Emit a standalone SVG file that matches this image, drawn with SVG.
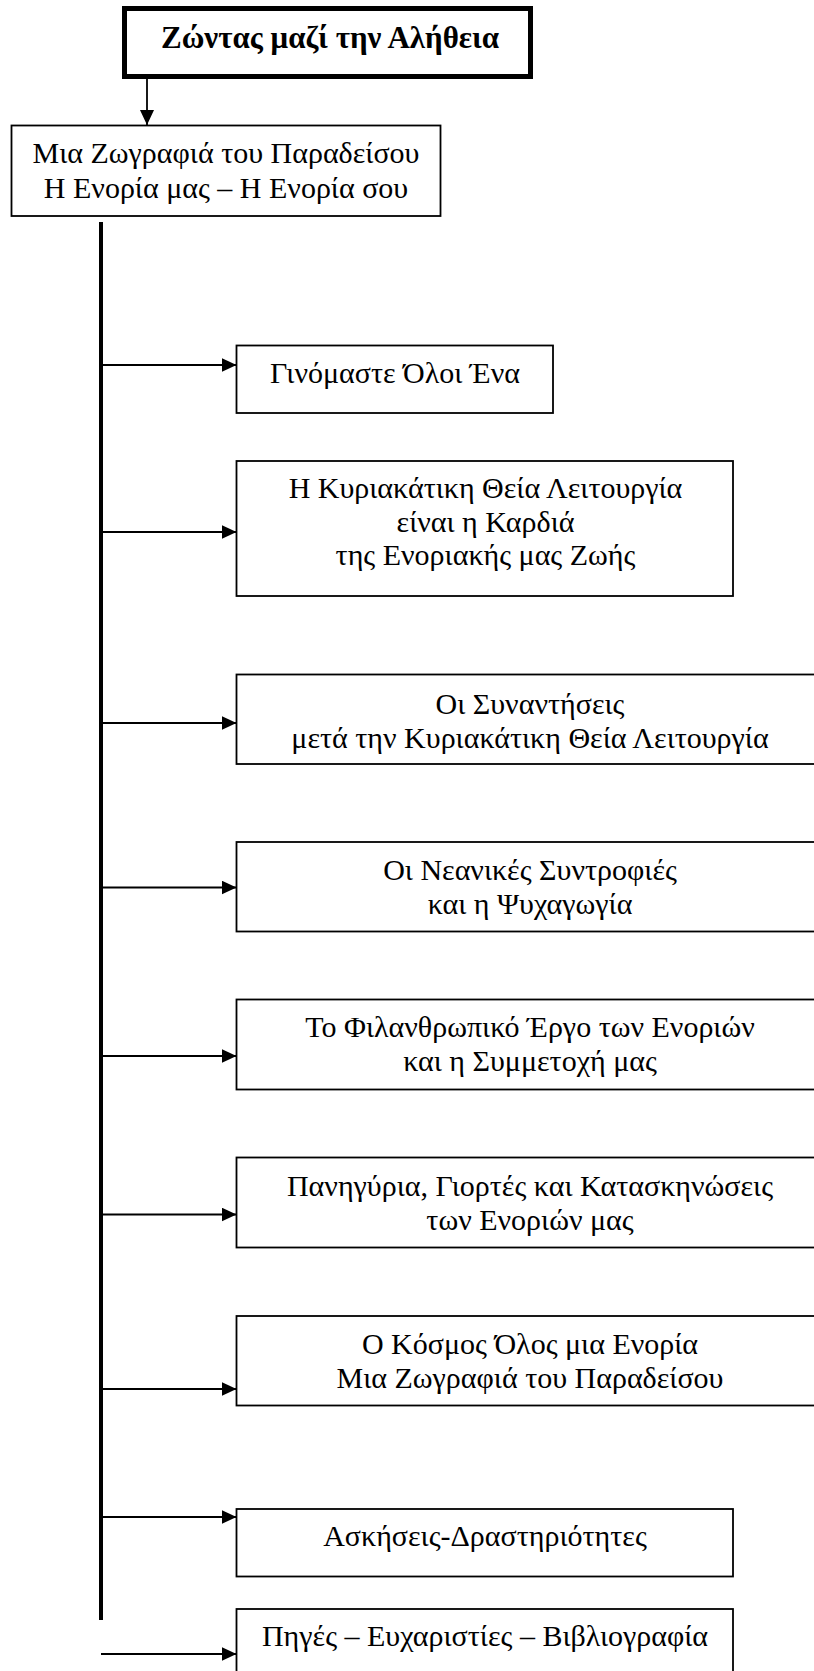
<svg xmlns="http://www.w3.org/2000/svg" width="814" height="1671" viewBox="0 0 814 1671">
<style>
  .box { fill: #ffffff; stroke: #000000; stroke-width: 1.8; }
  .title { fill: #ffffff; stroke: #000000; stroke-width: 5; }
  text { font-family: "Liberation Serif", "Times New Roman", serif; font-size: 30px; fill: #000000; text-anchor: middle; }
  .bold { font-weight: bold; font-size: 31px; }
  .conn { stroke: #000000; stroke-width: 1.8; fill: none; }
  .spine { stroke: #000000; stroke-width: 4; fill: none; }
</style>
<defs>
  <marker id="arrow" markerUnits="userSpaceOnUse" markerWidth="15" markerHeight="14" refX="15" refY="7" orient="auto">
    <path d="M0,0 L15,7 L0,14 z" fill="#000000"/>
  </marker>
</defs>

<g id="connectors">
  <line class="conn" x1="147" y1="79" x2="147" y2="125" marker-end="url(#arrow)"/>
  <line class="spine" x1="101" y1="222" x2="101" y2="1620"/>
  <line class="conn" x1="101" y1="365" x2="236.5" y2="365" marker-end="url(#arrow)"/>
  <line class="conn" x1="101" y1="532" x2="236.5" y2="532" marker-end="url(#arrow)"/>
  <line class="conn" x1="101" y1="723" x2="236.5" y2="723" marker-end="url(#arrow)"/>
  <line class="conn" x1="101" y1="887.5" x2="236.5" y2="887.5" marker-end="url(#arrow)"/>
  <line class="conn" x1="101" y1="1056" x2="236.5" y2="1056" marker-end="url(#arrow)"/>
  <line class="conn" x1="101" y1="1214.5" x2="236.5" y2="1214.5" marker-end="url(#arrow)"/>
  <line class="conn" x1="101" y1="1389" x2="236.5" y2="1389" marker-end="url(#arrow)"/>
  <line class="conn" x1="101" y1="1517" x2="236.5" y2="1517" marker-end="url(#arrow)"/>
  <line class="conn" x1="101" y1="1654" x2="236.5" y2="1654" marker-end="url(#arrow)"/>
</g>

<g id="n-title">
  <rect class="title" x="124.5" y="8.5" width="406" height="68"/>
  <text class="bold" x="330" y="48">Ζώντας μαζί την Αλήθεια</text>
</g>

<g id="n-root">
  <rect class="box" x="11.5" y="125.5" width="429" height="90.5"/>
  <text x="226" y="163">Μια Ζωγραφιά του Παραδείσου</text>
  <text x="226" y="198">Η Ενορία μας – Η Ενορία σου</text>
</g>

<g id="n1">
  <rect class="box" x="236.5" y="345.5" width="316.5" height="67.5"/>
  <text x="395" y="383">Γινόμαστε Όλοι Ένα</text>
</g>

<g id="n2">
  <rect class="box" x="236.5" y="461" width="496.5" height="135"/>
  <text x="485.5" y="498">Η Κυριακάτικη Θεία Λειτουργία</text>
  <text x="485.5" y="531.5">είναι η Καρδιά</text>
  <text x="485.5" y="565">της Ενοριακής μας Ζωής</text>
</g>

<g id="n3">
  <rect class="box" x="236.5" y="674.5" width="600" height="89.5"/>
  <text x="530" y="714">Οι Συναντήσεις</text>
  <text x="530" y="748">μετά την Κυριακάτικη Θεία Λειτουργία</text>
</g>

<g id="n4">
  <rect class="box" x="236.5" y="842" width="600" height="89.5"/>
  <text x="530" y="880">Οι Νεανικές Συντροφιές</text>
  <text x="530" y="914">και η Ψυχαγωγία</text>
</g>

<g id="n5">
  <rect class="box" x="236.5" y="999.5" width="600" height="90"/>
  <text x="530" y="1037">Το Φιλανθρωπικό Έργο των Ενοριών</text>
  <text x="530" y="1071">και η Συμμετοχή μας</text>
</g>

<g id="n6">
  <rect class="box" x="236.5" y="1157.5" width="600" height="90"/>
  <text x="530" y="1196">Πανηγύρια, Γιορτές και Κατασκηνώσεις</text>
  <text x="530" y="1230">των Ενοριών μας</text>
</g>

<g id="n7">
  <rect class="box" x="236.5" y="1316" width="600" height="89.5"/>
  <text x="530" y="1354">Ο Κόσμος Όλος μια Ενορία</text>
  <text x="530" y="1388">Μια Ζωγραφιά του Παραδείσου</text>
</g>

<g id="n8">
  <rect class="box" x="236.5" y="1509" width="496.5" height="67.5"/>
  <text x="485" y="1546">Ασκήσεις-Δραστηριότητες</text>
</g>

<g id="n9">
  <rect class="box" x="236.5" y="1609" width="496.5" height="80"/>
  <text x="485" y="1646">Πηγές – Ευχαριστίες – Βιβλιογραφία</text>
</g>
</svg>
